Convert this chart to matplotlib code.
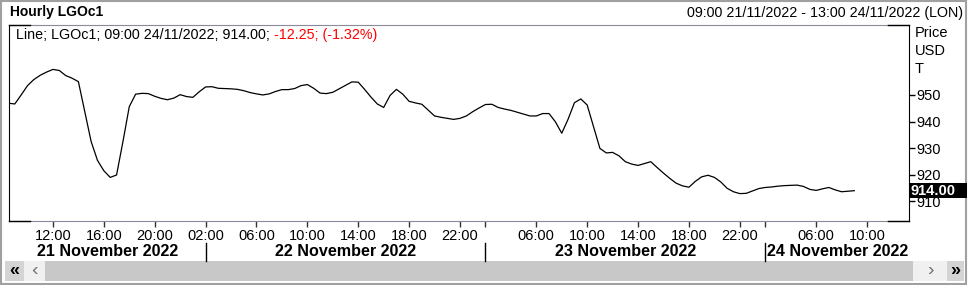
import matplotlib
matplotlib.use('Agg')
import matplotlib.pyplot as plt
import matplotlib.transforms as mtransforms
from matplotlib.patches import Rectangle
import numpy as np

plt.rcParams['font.family'] = ['Liberation Sans', 'DejaVu Sans']

# half-hourly readings of the LGOc1 line, starting 08:30 21/11/2022 (bar -0.5)
price = [946.9, 946.6, 950.0, 953.5, 955.8, 957.4, 958.6, 959.6, 959.2, 957.3,
         956.3, 955.0, 943.7, 932.5, 925.4, 921.5, 919.0, 919.9, 932.4, 945.6,
         950.3, 950.6, 950.5, 949.5, 948.7, 948.2, 948.8, 950.1, 949.4, 949.1,
         951.2, 953.0, 953.1, 952.5, 952.4, 952.3, 952.1, 951.6, 950.9, 950.4,
         950.0, 950.4, 951.3, 952.0, 952.0, 952.4, 953.5, 953.9, 952.5, 950.7,
         950.5, 951.0, 952.3, 953.6, 954.9, 954.8, 952.1, 949.2, 946.6, 945.3,
         949.8, 952.1, 950.3, 947.6, 947.0, 946.5, 944.3, 942.1, 941.6, 941.2,
         940.8, 941.2, 942.1, 943.7, 945.1, 946.4, 946.5, 945.3, 944.7, 944.2,
         943.5, 942.8, 942.1, 942.1, 943.0, 943.0, 939.9, 935.6, 940.9, 947.1,
         948.5, 946.2, 938.1, 929.9, 928.2, 928.4, 927.1, 924.9, 924.0, 923.5,
         924.2, 924.9, 922.7, 920.6, 918.6, 916.8, 915.8, 915.3, 917.5, 919.2,
         919.8, 919.0, 917.3, 914.9, 913.6, 912.9, 913.0, 913.9, 914.8, 915.2,
         915.4, 915.7, 915.9, 916.0, 916.1, 915.6, 914.5, 914.1, 914.7, 915.2,
         914.3, 913.6, 913.8, 914.0]

# trading bars (hourly, 01:00-22:00 each day)
days = ['21 November 2022', '22 November 2022', '23 November 2022', '24 November 2022']
day_hours = [list(range(9, 23)), list(range(1, 23)), list(range(1, 23)), list(range(1, 14))]
tick_hours = [[12, 16, 20], [2, 6, 10, 14, 18, 22], [2, 6, 10, 14, 18, 22], [2, 6, 10]]
unlabeled = [(2, 2), (3, 2)]
y_ticks = [910, 920, 930, 940, 950]
last_value = 914.00
legend_main = 'Line; LGOc1; 09:00 24/11/2022; 914.00; '
legend_change = '-12.25; (-1.32%)'

W, H = 969, 285
fig = plt.figure(figsize=(W / 100, H / 100), dpi=100)

# decoration layer in pixel coordinates
deco = fig.add_axes([0, 0, 1, 1], zorder=0)
deco.set_xlim(0, W)
deco.set_ylim(H, 0)
deco.axis('off')

ax = fig.add_axes([9 / W, (H - 221) / H, 900 / W, 196 / H], zorder=1)
ax.patch.set_alpha(0)

bars = []
for d, hours in enumerate(day_hours):
    for h in hours:
        bars.append((d, h))

pos = np.arange(len(price)) * 0.5 - 0.5
ax.plot(pos, price, color='black', lw=0.9)

ax.set_xlim(-0.456, 70.3)
ax.set_ylim(902.6, 976.3)

# y axis on the right
ax.yaxis.tick_right()
ax.set_yticks(y_ticks)
ax.set_yticklabels([str(v) for v in y_ticks])
ax.tick_params(axis='y', direction='out', length=4, width=1, pad=1.5, labelsize=10.5)

# x ticks
tick_pos, tick_lab, seps = [], [], []
for i, (d, h) in enumerate(bars):
    if h in tick_hours[d]:
        tick_pos.append(i)
        tick_lab.append('' if (d, h) in unlabeled else '%02d:00' % h)
        if h == 2:
            seps.append(i)
ax.set_xticks(tick_pos)
ax.set_xticklabels(tick_lab)
ax.tick_params(axis='x', direction='out', length=4, width=1, pad=2, labelsize=10.5,
               color='#333333')

for s in ['top', 'bottom']:
    ax.spines[s].set_color('#8a8a9a')
for s in ['left', 'right']:
    ax.spines[s].set_color('black')
for x0, x1 in [(0, 0.023), (0.977, 1)]:
    for yy in [0, 1]:
        ax.plot([x0, x1], [yy, yy], color='black', lw=1, transform=ax.transAxes,
                clip_on=False, zorder=5)

# day separators and date labels
blend = mtransforms.blended_transform_factory(ax.transData, deco.transData)
for s in seps:
    ax.plot([s, s], [243, 261], color='black', lw=1, transform=blend, clip_on=False)
bounds = [ax.get_xlim()[0]] + seps + [ax.get_xlim()[1]]
for k, day in enumerate(days):
    ax.text((bounds[k] + bounds[k + 1]) / 2, 251, day, transform=blend,
            ha='center', va='center', fontsize=11.6, fontweight='bold')

# last value marker
bl = mtransforms.blended_transform_factory(deco.transData, ax.transData)
ax.add_patch(Rectangle((909, last_value - 2.8), 58, 5.6, transform=bl,
                       facecolor='black', edgecolor='none', clip_on=False, zorder=6))
ax.text(911, last_value, '%.2f' % last_value, transform=bl, color='white',
        fontsize=10.5, fontweight='bold', ha='left', va='center', zorder=7)

# headers
deco.text(10, 12, 'Hourly LGOc1', fontsize=10, fontweight='bold', ha='left', va='center')
deco.text(963, 13, '09:00 21/11/2022 - 13:00 24/11/2022 (LON)', fontsize=10.3,
          ha='right', va='center')
t1 = deco.text(16, 35, legend_main, fontsize=10.3, ha='left', va='center')
deco.annotate(legend_change, xy=(1, 0.5), xycoords=t1, ha='left', va='center',
              fontsize=10.3, color='red')
for y, s in zip([33, 51, 69], ['Price', 'USD', 'T']):
    deco.text(915, y, s, fontsize=10.5, ha='left', va='center')

# scrollbar
deco.add_patch(Rectangle((45, 261), 868, 20, facecolor='#c8c8c8', edgecolor='none'))
deco.add_patch(Rectangle((5, 261), 19, 20, facecolor='#d4d4d4', edgecolor='none'))
deco.add_patch(Rectangle((24, 261), 21, 20, facecolor='#f0f0f0', edgecolor='none'))
deco.add_patch(Rectangle((913, 261), 34, 20, facecolor='#f0f0f0', edgecolor='none'))
deco.add_patch(Rectangle((947, 261), 17, 20, facecolor='#d4d4d4', edgecolor='none'))
deco.text(14, 271, '«', fontsize=13, fontweight='bold', ha='center', va='center')
deco.text(34, 271, '‹', fontsize=14, color='#707070', ha='center', va='center')
deco.text(930, 271, '›', fontsize=14, color='#707070', ha='center', va='center')
deco.text(955, 271, '»', fontsize=13, fontweight='bold', ha='center', va='center')

# outer frame
deco.add_patch(Rectangle((1.5, 0.5), 965, 283, facecolor='none', edgecolor='#a0a0a0', lw=1.5))

fig.savefig('out.png', dpi=100)
